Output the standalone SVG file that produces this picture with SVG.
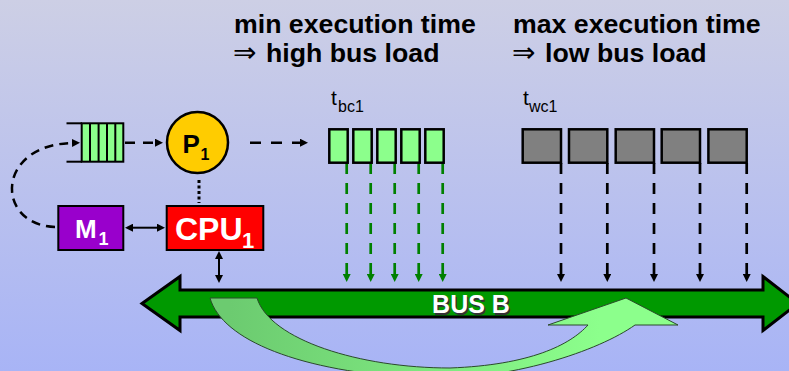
<svg xmlns="http://www.w3.org/2000/svg" width="789" height="371" viewBox="0 0 789 371">
<defs>
<linearGradient id="bg" x1="0" y1="0" x2="0" y2="1">
<stop offset="0" stop-color="#CDCFE5"/>
<stop offset="1" stop-color="#A8B4F6"/>
</linearGradient>
<linearGradient id="curveFill" gradientUnits="userSpaceOnUse" x1="230" y1="0" x2="600" y2="0">
<stop offset="0" stop-color="#6CCB70"/>
<stop offset="1" stop-color="#8CFF8C"/>
</linearGradient>
<marker id="ahB" viewBox="0 0 10 10" refX="0" refY="5" markerWidth="8" markerHeight="8" markerUnits="userSpaceOnUse" orient="auto">
<path d="M0,0 L10,5 L0,10 z" fill="#000"/>
</marker>
<marker id="ahBs" viewBox="0 0 10 10" refX="0" refY="5" markerWidth="8" markerHeight="8" markerUnits="userSpaceOnUse" orient="auto-start-reverse">
<path d="M0,0 L10,5 L0,10 z" fill="#000"/>
</marker>
<marker id="ahG" viewBox="0 0 10 10" refX="0" refY="5" markerWidth="8" markerHeight="8" markerUnits="userSpaceOnUse" orient="auto">
<path d="M0,0 L10,5 L0,10 z" fill="#008000"/>
</marker>
</defs>
<style>
text{font-family:"Liberation Sans",Arial,sans-serif;}
.title{font-size:26.7px;font-weight:bold;fill:#000;}
.arr{font-weight:normal;font-family:"DejaVu Sans","Liberation Sans",sans-serif;font-size:28px;}
.lbl{font-size:21px;fill:#000;}
.sub{font-size:16px;}
.box{stroke:#000;stroke-width:2;}
.bc{fill:#8CFF8C;stroke:#000;stroke-width:2.5;}
.wc{fill:#808080;stroke:#000;stroke-width:2.5;}
.gd{stroke:#008000;stroke-width:2.7;stroke-dasharray:11 9;fill:none;}
.bd{stroke:#000;stroke-width:2.7;stroke-dasharray:11 9;fill:none;}
.wt{fill:#fff;font-weight:bold;}
</style>
<rect x="0" y="0" width="789" height="371" fill="url(#bg)"/>

<g id="titles">
<text class="title" x="234" y="33">min execution time</text>
<text class="title" y="62"><tspan class="arr" x="233">⇒</tspan><tspan x="266">high bus load</tspan></text>
<text class="title" x="513" y="33">max execution time</text>
<text class="title" y="62"><tspan class="arr" x="512">⇒</tspan><tspan x="545">low bus load</tspan></text>
</g>

<g id="bus">
<polygon points="142,303.5 180,276.5 180,290 763,290 763,276.5 798,303.5 763,330.5 763,317 180,317 180,330.5" fill="#009900" stroke="#000" stroke-width="3" stroke-linejoin="miter"/>
<text x="472.5" y="314.5" text-anchor="middle" font-size="25" font-weight="bold" fill="#333">BUS B</text>
<text x="471" y="313" text-anchor="middle" font-size="25" class="wt">BUS B</text>
</g>

<g id="transfer-arrow">
<path d="M210,298 C222,340 300,372 420,378 C510,382 600,350 635,325 L678,325 L626,298 L548,325 L588,325 C570,345 530,365 450,368 C360,368 270,340 257,298 Z" fill="url(#curveFill)" stroke="#2a4a2a" stroke-width="1"/>
</g>

<g id="connectors">
<path d="M55,227 C-5,225 -5,145 72,143" fill="none" stroke="#000" stroke-width="2.5" stroke-dasharray="9 6" marker-end="url(#ahB)"/>
<line x1="125" y1="142.7" x2="155" y2="142.7" stroke="#000" stroke-width="2.5" stroke-dasharray="10 8" marker-end="url(#ahB)"/>
<line x1="250" y1="142.7" x2="300" y2="142.7" stroke="#000" stroke-width="2.5" stroke-dasharray="11 10" marker-end="url(#ahB)"/>
<line x1="199" y1="180" x2="199" y2="203" stroke="#000" stroke-width="3" stroke-dasharray="3 2.5"/>
<line x1="133" y1="227.7" x2="157" y2="227.7" stroke="#000" stroke-width="2" marker-start="url(#ahBs)" marker-end="url(#ahB)"/>
<line x1="219" y1="259" x2="219" y2="275" stroke="#000" stroke-width="2" marker-start="url(#ahBs)" marker-end="url(#ahB)"/>
<line class="gd" x1="346.7" y1="163" x2="346.7" y2="274" marker-end="url(#ahG)"/>
<line class="gd" x1="370.7" y1="163" x2="370.7" y2="274" marker-end="url(#ahG)"/>
<line class="gd" x1="394.7" y1="163" x2="394.7" y2="274" marker-end="url(#ahG)"/>
<line class="gd" x1="418.7" y1="163" x2="418.7" y2="274" marker-end="url(#ahG)"/>
<line class="gd" x1="442.7" y1="163" x2="442.7" y2="274" marker-end="url(#ahG)"/>
<line class="bd" x1="561" y1="163" x2="561" y2="274" marker-end="url(#ahB)"/>
<line class="bd" x1="607.3" y1="163" x2="607.3" y2="274" marker-end="url(#ahB)"/>
<line class="bd" x1="654" y1="163" x2="654" y2="274" marker-end="url(#ahB)"/>
<line class="bd" x1="700" y1="163" x2="700" y2="274" marker-end="url(#ahB)"/>
<line class="bd" x1="746.7" y1="163" x2="746.7" y2="274" marker-end="url(#ahB)"/>
</g>

<g id="queue">
<rect x="81.7" y="123.3" width="41.6" height="38.4" fill="#8CFF8C" stroke="#000" stroke-width="2"/>
<line x1="90" y1="123.3" x2="90" y2="161.7" stroke="#000" stroke-width="2"/>
<line x1="98.6" y1="123.3" x2="98.6" y2="161.7" stroke="#000" stroke-width="2"/>
<line x1="107" y1="123.3" x2="107" y2="161.7" stroke="#000" stroke-width="2"/>
<line x1="115.3" y1="123.3" x2="115.3" y2="161.7" stroke="#000" stroke-width="2"/>
<line x1="66.5" y1="123.3" x2="82" y2="123.3" stroke="#000" stroke-width="2"/>
<line x1="66.5" y1="161.7" x2="82" y2="161.7" stroke="#000" stroke-width="2"/>
</g>

<g id="P1">
<circle cx="197.5" cy="142.5" r="30.5" fill="#FFCC00" stroke="#000" stroke-width="2.5"/>
<text font-size="26" font-weight="bold" fill="#000" y="153"><tspan x="182.5">P</tspan><tspan x="200.5" y="160" font-size="16">1</tspan></text>
</g>

<g id="M1">
<rect class="box" x="58.3" y="206" width="65" height="44" fill="#9900CC"/>
<text class="wt" font-size="26" y="238"><tspan x="75">M</tspan><tspan x="98.5" y="245" font-size="18">1</tspan></text>
</g>

<g id="CPU1">
<rect class="box" x="166.7" y="206" width="96.6" height="44" fill="#FF0000"/>
<text class="wt" font-size="32" y="240"><tspan x="175">CPU</tspan><tspan x="242" y="248" font-size="22">1</tspan></text>
</g>

<g id="tbc1">
<text class="lbl" y="105"><tspan x="331">t</tspan><tspan class="sub" x="338" y="112">bc1</tspan></text>
<rect class="bc" x="329.3" y="129.3" width="18.4" height="33.4"/>
<rect class="bc" x="353.3" y="129.3" width="18.4" height="33.4"/>
<rect class="bc" x="377.3" y="129.3" width="18.4" height="33.4"/>
<rect class="bc" x="401.3" y="129.3" width="18.4" height="33.4"/>
<rect class="bc" x="425.3" y="129.3" width="18.4" height="33.4"/>
</g>

<g id="twc1">
<text class="lbl" y="105"><tspan x="523">t</tspan><tspan class="sub" x="529" y="112">wc1</tspan></text>
<rect class="wc" x="522.7" y="129.3" width="38.3" height="33.4"/>
<rect class="wc" x="569" y="129.3" width="38.3" height="33.4"/>
<rect class="wc" x="615.7" y="129.3" width="38.3" height="33.4"/>
<rect class="wc" x="661.7" y="129.3" width="38.3" height="33.4"/>
<rect class="wc" x="708.4" y="129.3" width="38.3" height="33.4"/>
</g>
</svg>
